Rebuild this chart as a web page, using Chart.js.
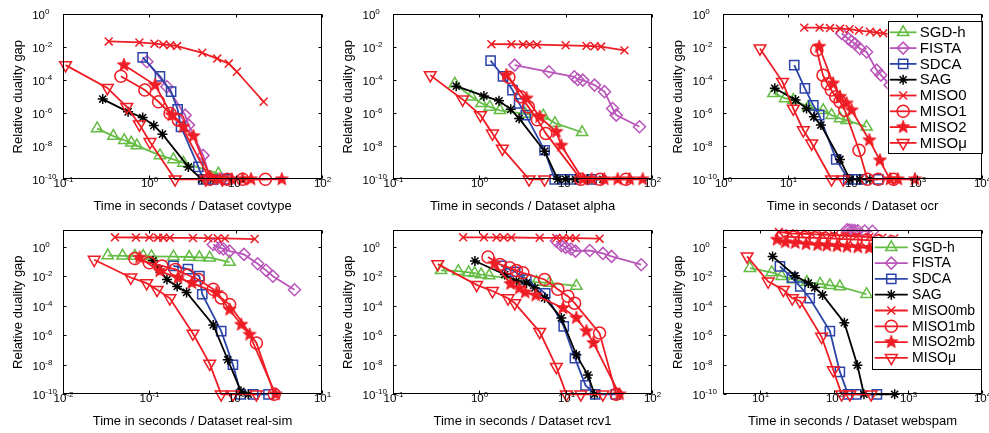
<!DOCTYPE html>
<html>
<head>
<meta charset="utf-8">
<script src="https://cdn.jsdelivr.net/npm/chart.js@4.4.1/dist/chart.umd.min.js"></script>
<style>
html, body { margin: 0; padding: 0; background: #fff; overflow: hidden; }
#fig { position: relative; width: 989px; height: 433px; }
#fig canvas { position: absolute; }
</style>
</head>
<body>
<div id="fig">
  <canvas id="p1" width="340" height="215" style="left:0px;top:0px"></canvas>
  <canvas id="p2" width="340" height="215" style="left:330px;top:0px"></canvas>
  <canvas id="p3" width="339" height="215" style="left:660px;top:0px"></canvas>
  <canvas id="p4" width="340" height="218" style="left:0px;top:215px"></canvas>
  <canvas id="p5" width="340" height="218" style="left:330px;top:215px"></canvas>
  <canvas id="p6" width="339" height="218" style="left:660px;top:215px"></canvas>
</div>
<script>
// ---- data: [time in seconds, relative duality gap] ----
const legendLabels = ['SGD-h', 'FISTA', 'SDCA', 'SAG', 'MISO0', 'MISO1', 'MISO2', 'MISOμ'];
const legendLabelsMb = ['SGD-h', 'FISTA', 'SDCA', 'SAG', 'MISO0mb', 'MISO1mb', 'MISO2mb', 'MISOμ'];
const yTickExponents = [0, -2, -4, -6, -8, -10];

// covtype
const covtypeXTicks = [-1, 0, 1, 2];
const covtypeSGD = [[0.25,1.2e-7],[0.385,4.1e-8],[0.515,2.3e-8],[0.62,1.6e-8],[0.72,1.1e-8],[1.33,2.8e-9],[1.9,1.6e-9],[2.48,9.8e-10],[6.3,2.2e-10]];
const covtypeFISTA = [[0.94,1.3e-3],[1.6,4e-5],[2.6,7.6e-7],[2.85,1.9e-7],[4.2,2.8e-9],[5.1,1e-10],[7,1e-10]];
const covtypeSDCA = [[0.84,2.4e-3],[1.33,1.7e-4],[1.79,2e-5],[2.13,1.7e-6],[2.33,1.5e-7],[3.7,5.6e-10],[4.2,1e-10],[5.5,1e-10],[8,1e-10]];
const covtypeSAG = [[0.29,7.1e-6],[0.57,1.2e-6],[0.84,5.5e-7],[1.13,1.8e-7],[1.42,5.4e-8],[2.83,5.6e-10],[4.05,1e-10],[5.5,1e-10]];
const covtypeMISO0 = [[0.34,2.2e-2],[0.77,1.9e-2],[1.15,1.6e-2],[1.45,1.45e-2],[1.75,1.3e-2],[2.1,1.15e-2],[4.1,4.5e-3],[6.1,2e-3],[8.3,1e-3],[10.3,3.2e-4],[21,4.9e-6]];
const covtypeMISO1 = [[0.47,1.7e-4],[0.89,2.5e-5],[1.28,4.9e-6],[1.74,9.6e-7],[2.17,3.8e-7],[5,1e-10],[8,1e-10],[12,1e-10],[22,1e-10]];
const covtypeMISO2 = [[0.51,8.1e-4],[1.17,5e-5],[1.82,7.6e-7],[2.48,1.5e-7],[3.24,4.1e-8],[5.05,1.4e-10],[6.5,1e-10],[9,1e-10],[12,1e-10],[15,1e-10],[34,1e-10]];
const covtypeMISOmu = [[0.108,8.1e-4],[0.328,3.4e-5],[0.55,2.4e-6],[0.77,2.1e-7],[1.02,1.8e-8],[1.99,1e-10],[4.5,1e-10],[7,1e-10]];

// alpha
const alphaXTicks = [-1, 0, 1, 2];
const alphaSGD = [[0.52,6e-5],[0.81,1e-5],[1.06,4e-6],[1.32,2.4e-6],[1.73,1.5e-6],[3.4,9e-7],[5.5,7e-7],[7.5,2.5e-7],[15.5,7e-8]];
const alphaFISTA = [[2.57,8.1e-4],[6.4,3.2e-4],[12.6,1.6e-4],[13.8,1.1e-4],[15.8,1e-4],[21.6,5e-5],[28.2,2e-5],[35,1.9e-6],[38.5,7.6e-7],[71.6,1.5e-7]];
const alphaSDCA = [[1.35,1.5e-3],[1.88,1.7e-4],[2.42,2.5e-5],[2.89,3.9e-6],[3.45,7.6e-7],[5.7,5.7e-9],[7.46,1e-10],[9.7,1e-10],[12,1e-10],[20,1e-10]];
const alphaSAG = [[0.54,4.3e-5],[1.13,1.1e-5],[1.69,5.6e-6],[2.31,1.7e-6],[2.89,4.8e-7],[5.7,5e-9],[8.1,1e-10],[10,1e-10],[13,1e-10],[18,1e-10],[27,1e-10]];
const alphaMISO0 = [[1.38,1.5e-2],[2.35,1.48e-2],[3.2,1.45e-2],[3.84,1.43e-2],[4.66,1.4e-2],[10,1.28e-2],[17.4,1.18e-2],[21.6,1.12e-2],[25.7,1.07e-2],[48,6.3e-3]];
const alphaMISO1 = [[2.2,1.5e-4],[3.0,1e-5],[3.7,2.4e-6],[4.7,4e-7],[5.9,6e-8],[15,1e-10],[25,1e-10],[50,1e-10]];
const alphaMISO2 = [[2.06,2e-4],[3.52,7.8e-6],[5.0,6e-7],[7.8,7.4e-8],[8.9,1.1e-8],[15.8,1e-10],[20,1e-10],[28,1e-10],[40,1e-10],[55,1e-10],[78,1e-10]];
const alphaMISOmu = [[0.27,2e-4],[0.64,6.8e-6],[1.03,7.6e-7],[1.42,5.9e-8],[1.85,7.2e-9],[3.77,1e-10],[5.7,1e-10]];

// ocr
const ocrXTicks = [0, 1, 2, 3, 4];
const ocrSGD = [[6,1.6e-5],[9.1,7.8e-6],[12.2,6.2e-6],[20.7,2.4e-6],[35.3,1.5e-6],[47.5,7.6e-7],[64,4.8e-7],[81,3.8e-7],[165,1.5e-7]];
const ocrFISTA = [[68,6.7e-2],[86,3.2e-2],[97,2.2e-2],[109,1.6e-2],[130,8e-3],[165,5e-3],[236,4e-4],[275,2e-4],[380,5e-5],[700,2e-6]];
const ocrSDCA = [[12.6,8.1e-4],[18.4,3.2e-5],[24.8,3e-6],[30.6,7.6e-7],[56,1.6e-9],[86,1e-10],[115,1e-10],[138,1e-10],[250,1e-10]];
const ocrSAG = [[6.3,3.2e-5],[13.2,6.2e-6],[19.5,1.9e-6],[25.3,6e-7],[32.5,1.9e-7],[64,1.6e-9],[91,1e-10],[130,1e-10],[186,1e-10]];
const ocrMISO0 = [[18,0.15],[31,0.15],[45,0.14],[64,0.13],[90,0.12],[126,0.1],[186,0.085],[236,0.075],[300,0.068],[600,0.05]];
const ocrMISO1 = [[28,6.6e-3],[35,2e-4],[41,6e-5],[47,2.5e-5],[55,1e-5],[64,5e-6],[76,1.5e-6],[126,5.7e-9],[170,1e-10],[250,1e-10],[430,1e-10]];
const ocrMISO2 = [[30.6,1.05e-2],[50,6.3e-5],[64,9.8e-6],[81,3.9e-6],[97,1.5e-6],[182,2.3e-8],[265,1.4e-9],[380,1e-10],[500,1e-10],[920,1e-10]];
const ocrMISOmu = [[3.72,8.3e-3],[8.3,7.9e-5],[12.2,1.9e-6],[17.4,9.3e-8],[23.4,1.5e-8],[47.5,1e-10],[72,1e-10]];

// real-sim
const realsimXTicks = [-2, -1, 0, 1];
const realsimSGD = [[0.033,0.25],[0.049,0.24],[0.068,0.23],[0.085,0.23],[0.106,0.22],[0.19,0.21],[0.29,0.2],[0.38,0.19],[0.5,0.18],[0.85,0.09]];
const realsimFISTA = [[0.55,1.4],[0.65,0.85],[0.72,0.7],[0.85,0.5],[1.25,0.3],[1.8,0.07],[2.25,0.025],[2.7,0.01],[4.8,1.2e-3]];
const realsimSDCA = [[0.19,0.05],[0.28,0.03],[0.38,0.01],[0.41,6e-4],[0.68,1.9e-6],[0.93,1e-8],[1.15,1e-10],[1.6,1e-10],[2.4,1e-10]];
const realsimSAG = [[0.11,0.11],[0.13,0.03],[0.16,6e-3],[0.21,2e-3],[0.27,8e-4],[0.55,5e-6],[0.81,2.2e-8],[1.15,1.6e-10],[1.4,1e-10]];
const realsimMISO0 = [[0.04,4.3],[0.07,4.2],[0.1,4.2],[0.126,4.1],[0.145,4.1],[0.173,4.0],[0.32,3.9],[0.48,3.8],[0.62,3.7],[0.75,3.6],[1.66,3.3]];
const realsimMISO1 = [[0.068,0.16],[0.1,0.081],[0.14,0.05],[0.2,0.029],[0.28,0.012],[0.37,6e-3],[0.55,1.3e-3],[0.68,3.4e-4],[0.85,1.2e-4],[1.74,3e-7],[2.8,1e-10]];
const realsimMISO2 = [[0.077,0.18],[0.132,0.022],[0.215,7.8e-3],[0.31,3.5e-3],[0.6,7.4e-4],[0.85,5.5e-5],[1.16,5.2e-6],[1.45,1.1e-6],[2.9,1e-10]];
const realsimMISOmu = [[0.023,0.13],[0.061,8.2e-3],[0.093,3.4e-3],[0.123,1.2e-3],[0.173,3.2e-4],[0.32,1.3e-6],[0.5,1.2e-8],[0.68,1e-10],[0.93,1e-10],[1.74,1e-10]];

// rcv1
const rcv1XTicks = [-1, 0, 1, 2];
const rcv1SGD = [[0.36,0.025],[0.57,0.022],[0.75,0.018],[0.88,0.016],[1.05,0.013],[1.3,0.011],[3.2,5e-3],[4.6,4e-3],[6.5,3.5e-3],[13.3,2.2e-3]];
const rcv1FISTA = [[7.8,2.4],[8.9,1.2],[10,0.9],[11.5,0.7],[13,0.5],[19,0.55],[27,0.35],[34,0.22],[75,0.06]];
const rcv1SDCA = [[1.8,0.05],[2.6,0.02],[3.5,6e-3],[5.8,7e-4],[9.5,4e-6],[12.8,2.8e-8],[17,4e-10],[22,1e-10],[38,1e-10]];
const rcv1SAG = [[0.89,0.107],[1.97,0.013],[2.69,4.7e-3],[3.52,3.5e-3],[4.4,1.6e-3],[5.7,3.4e-4],[8.9,1.5e-5],[13.3,4.7e-8],[18.1,2e-9],[21.6,1e-10]];
const rcv1MISO0 = [[0.65,4.3],[1.13,4.3],[1.58,4.2],[1.92,4.2],[2.35,4.2],[5.0,4.0],[7.8,3.9],[9.3,3.9],[11.1,3.8],[13.1,3.8],[24.7,3.5]];
const rcv1MISO1 = [[1.26,0.2],[1.73,0.063],[2.25,0.037],[2.69,0.024],[3.2,0.017],[5.7,6e-3],[8.1,1.3e-3],[10.6,4.4e-4],[12.7,1.5e-4],[24.7,1.4e-6],[38.5,1e-10]];
const rcv1MISO2 = [[1.5,0.07],[2.3,3e-3],[2.9,1.5e-3],[3.4,8e-4],[4.5,5e-4],[9.3,7e-5],[13.3,1.5e-5],[17.4,1.9e-6],[21,3e-7],[42,1e-10]];
const rcv1MISOmu = [[0.33,0.066],[0.93,2.6e-3],[1.42,1e-3],[2.15,3.2e-4],[2.57,1.5e-4],[5.0,1.7e-6],[7.8,7.2e-9],[10.2,1e-10],[15,1e-10],[27,1e-10]];

// webspam
const webspamXTicks = [1, 2, 3, 4];
const webspamSGD = [[7.3,0.035],[14.4,0.018],[19.6,0.01],[28,6e-3],[43,4e-3],[65,3e-3],[88,2.4e-3],[120,2e-3],[275,6e-4]];
const webspamFISTA = [[150,14],[160,13.5],[175,13],[190,12.5],[210,12],[260,11.5],[330,11]];
const webspamSDCA = [[18.6,0.046],[27,8e-3],[35,2e-3],[47,3.2e-4],[88,1.9e-6],[120,3.3e-9],[155,1e-10],[200,1e-10],[380,1e-10]];
const webspamSAG = [[14.8,0.22],[29.7,0.0107],[45,3.4e-3],[55,1.7e-3],[70,5.4e-4],[138,7.1e-6],[207,9.3e-9],[254,1e-10],[660,1e-10]];
const webspamMISO0mb = [[18,10],[25,8],[35,7.5],[50,7],[70,6.5],[100,6],[140,5.5],[200,5],[300,4.5],[450,4],[650,3.6]];
const webspamMISO1mb = [[20,5],[28,4.5],[40,4.2],[55,4],[75,3.8],[100,3.5],[140,3.3],[200,3],[280,2.8],[400,2.5],[600,2.2]];
const webspamMISO2mb = [[17,3],[22,2],[30,1.8],[42,1.5],[60,1.3],[80,1.2],[110,1.1],[150,1],[210,0.9],[300,0.8],[450,0.7],[650,0.6]];
const webspamMISOmu = [[6.7,0.22],[12.9,4.4e-3],[20.7,1.2e-3],[27.3,3.2e-4],[34.7,2.1e-4],[68,7.9e-7],[98,4.3e-9],[127,1e-10],[164,1e-10],[318,1e-10]];

// ---- styles ----
const FONT = '"Liberation Sans", Arial, Helvetica, sans-serif';
const GREEN = 'rgb(100,188,68)', PURPLE = 'rgb(186,85,186)', BLUE = 'rgb(44,68,168)', RED = 'rgb(238,28,36)';

function makeStar(color, r) {
  const c = document.createElement('canvas');
  const s = Math.ceil(r * 2 + 2);
  c.width = s; c.height = s;
  const g = c.getContext('2d');
  g.beginPath();
  for (let i = 0; i < 10; i++) {
    const ang = -Math.PI / 2 + i * Math.PI / 5;
    const rr = i % 2 ? r * 0.42 : r;
    g.lineTo(s / 2 + rr * Math.cos(ang), s / 2 + rr * Math.sin(ang));
  }
  g.closePath();
  g.fillStyle = color; g.fill();
  g.strokeStyle = color; g.lineWidth = 1; g.stroke();
  return c;
}
const redStar = makeStar(RED, 6.8);

const seriesStyles = [
  { color: GREEN, pointStyle: 'triangle', radius: 6.5 },
  { color: PURPLE, pointStyle: 'rectRot', radius: 6 },
  { color: BLUE, pointStyle: 'rect', radius: 6.5 },
  { color: '#000', pointStyle: 'star', radius: 5 },
  { color: RED, pointStyle: 'crossRot', radius: 5.6 },
  { color: RED, pointStyle: 'circle', radius: 6 },
  { color: RED, pointStyle: redStar, radius: 7 },
  { color: RED, pointStyle: 'triangle', radius: 6.8, rotation: 180 }
];

function makeDatasets(seriesList, labels) {
  return seriesList.map((pts, i) => {
    const st = seriesStyles[i];
    return {
      label: labels[i],
      data: pts.map(p => ({ x: p[0], y: p[1] })),
      showLine: true,
      borderColor: st.color,
      backgroundColor: 'rgba(0,0,0,0)',
      borderWidth: 1.8,
      pointStyle: st.pointStyle,
      pointRadius: st.radius,
      pointRotation: st.rotation || 0,
      pointBorderColor: st.color,
      pointBackgroundColor: 'rgba(0,0,0,0)',
      pointBorderWidth: 1.5,
      tension: 0,
      clip: false,
      order: 7 - i
    };
  });
}

function drawPow(ctx, k, x, y, align) {
  const base = '10', exp = String(k);
  ctx.font = '11.5px ' + FONT;
  const wb = ctx.measureText(base).width;
  ctx.font = '8px ' + FONT;
  const we = ctx.measureText(exp).width;
  const x0 = align === 'center' ? x - (wb + we) / 2 : x - wb;
  ctx.textAlign = 'left';
  ctx.textBaseline = 'alphabetic';
  ctx.font = '11.5px ' + FONT;
  ctx.fillText(base, x0, y);
  ctx.font = '8px ' + FONT;
  ctx.fillText(exp, x0 + wb, y - 5.5);
}

const matlabAxes = {
  id: 'matlabAxes',
  afterDatasetsDraw(chart, args, opts) {
    const ctx = chart.ctx, a = chart.chartArea;
    const xs = chart.scales.x, ys = chart.scales.y;
    ctx.save();
    ctx.strokeStyle = '#000';
    ctx.fillStyle = '#000';
    ctx.lineWidth = 1;
    const L = Math.round(a.left) + 0.5, R = Math.round(a.right) - 0.5;
    const T = Math.round(a.top) + 0.5, B = Math.round(a.bottom) - 0.5;
    ctx.strokeRect(L, T, R - L, B - T);

    opts.xTicks.forEach(k => {
      const px = Math.round(xs.getPixelForValue(Math.pow(10, k))) + 0.5;
      ctx.beginPath();
      ctx.moveTo(px, B); ctx.lineTo(px, B - 3);
      ctx.moveTo(px, T); ctx.lineTo(px, T + 3);
      ctx.stroke();
      drawPow(ctx, k, px, a.bottom + 8, 'center');
    });
    yTickExponents.forEach(k => {
      const py = Math.round(ys.getPixelForValue(Math.pow(10, k))) + 0.5;
      ctx.beginPath();
      ctx.moveTo(L, py); ctx.lineTo(L + 3, py);
      ctx.moveTo(R, py); ctx.lineTo(R - 3, py);
      ctx.stroke();
      drawPow(ctx, k, a.left - 17.7, py + 4.5, 'right');
    });

    ctx.font = '13px ' + FONT;
    ctx.textAlign = 'center';
    ctx.textBaseline = 'alphabetic';
    ctx.fillText(opts.xTitle, (a.left + a.right) / 2, a.bottom + 30.5);
    ctx.save();
    ctx.translate(18.7, (a.top + a.bottom) / 2);
    ctx.rotate(-Math.PI / 2);
    ctx.textBaseline = 'middle';
    ctx.fillText('Relative duality gap', 0, 0);
    ctx.restore();

    const lg = opts.legend;
    if (lg) {
      const ds = chart.data.datasets;
      const right = a.right - 0.5, left = right - lg.width, top = a.top + lg.top;
      ctx.fillStyle = '#fff';
      ctx.fillRect(left, top, lg.width, lg.height);
      ctx.strokeStyle = '#000';
      ctx.lineWidth = 1;
      ctx.strokeRect(Math.round(left) + 0.5, Math.round(top) + 0.5, Math.round(lg.width), Math.round(lg.height));
      ds.forEach((d, i) => {
        const cy = top + lg.first + i * lg.step;
        ctx.strokeStyle = d.borderColor;
        ctx.lineWidth = d.borderWidth;
        ctx.beginPath();
        ctx.moveTo(left + lg.line0, cy); ctx.lineTo(left + lg.line1, cy);
        ctx.stroke();
        ctx.fillStyle = 'rgba(0,0,0,0)';
        ctx.lineWidth = d.pointBorderWidth;
        const mx = (left + lg.line0 + left + lg.line1) / 2;
        if (Chart.helpers && Chart.helpers.drawPoint) {
          Chart.helpers.drawPoint(ctx, { pointStyle: d.pointStyle, rotation: d.pointRotation, radius: d.pointRadius, borderWidth: d.pointBorderWidth }, mx, cy);
        }
        ctx.fillStyle = '#000';
        ctx.font = lg.font + 'px ' + FONT;
        ctx.textAlign = 'left';
        ctx.textBaseline = 'middle';
        ctx.fillText(d.label, left + lg.text, cy + 0.5);
      });
    }
    ctx.restore();
  }
};

const legendTop = { width: 94, height: 132, top: 7, first: 11.3, step: 15.8, line0: 2.3, line1: 29, text: 32.3, font: 15 };
const legendBottom = { width: 109.4, height: 132.3, top: 6.7, first: 10.6, step: 15.8, line0: 2.7, line1: 35.7, text: 40, font: 14 };

const panels = [
  { id: 'p1', title: 'Time in seconds / Dataset covtype', xmin: 0.1, xmax: 100, ymax: 1, xTicks: covtypeXTicks,
    series: [covtypeSGD, covtypeFISTA, covtypeSDCA, covtypeSAG, covtypeMISO0, covtypeMISO1, covtypeMISO2, covtypeMISOmu],
    labels: legendLabels, legend: null, pad: { left: 62.7, right: 17.7, top: 14, bottom: 35.7 } },
  { id: 'p2', title: 'Time in seconds / Dataset alpha', xmin: 0.1, xmax: 100, ymax: 1, xTicks: alphaXTicks,
    series: [alphaSGD, alphaFISTA, alphaSDCA, alphaSAG, alphaMISO0, alphaMISO1, alphaMISO2, alphaMISOmu],
    labels: legendLabels, legend: null, pad: { left: 63, right: 18, top: 14, bottom: 35.7 } },
  { id: 'p3', title: 'Time in seconds / Dataset ocr', xmin: 1, xmax: 1e4, ymax: 1, xTicks: ocrXTicks,
    series: [ocrSGD, ocrFISTA, ocrSDCA, ocrSAG, ocrMISO0, ocrMISO1, ocrMISO2, ocrMISOmu],
    labels: legendLabels, legend: legendTop, pad: { left: 63, right: 17, top: 14, bottom: 35.7 } },
  { id: 'p4', title: 'Time in seconds / Dataset real-sim', xmin: 0.01, xmax: 10, ymax: 13.5, xTicks: realsimXTicks,
    series: [realsimSGD, realsimFISTA, realsimSDCA, realsimSAG, realsimMISO0, realsimMISO1, realsimMISO2, realsimMISOmu],
    labels: legendLabels, legend: null, pad: { left: 63, right: 18, top: 15, bottom: 38.7 } },
  { id: 'p5', title: 'Time in seconds / Dataset rcv1', xmin: 0.1, xmax: 100, ymax: 13.5, xTicks: rcv1XTicks,
    series: [rcv1SGD, rcv1FISTA, rcv1SDCA, rcv1SAG, rcv1MISO0, rcv1MISO1, rcv1MISO2, rcv1MISOmu],
    labels: legendLabels, legend: null, pad: { left: 63, right: 18, top: 15, bottom: 38.7 } },
  { id: 'p6', title: 'Time in seconds / Dataset webspam', xmin: 3.1623, xmax: 1e4, ymax: 13.5, xTicks: webspamXTicks,
    series: [webspamSGD, webspamFISTA, webspamSDCA, webspamSAG, webspamMISO0mb, webspamMISO1mb, webspamMISO2mb, webspamMISOmu],
    labels: legendLabelsMb, legend: legendBottom, pad: { left: 63, right: 17, top: 15, bottom: 38.7 } }
];

panels.forEach(p => {
  new Chart(document.getElementById(p.id), {
    type: 'scatter',
    data: { datasets: makeDatasets(p.series, p.labels) },
    options: {
      responsive: false,
      animation: false,
      devicePixelRatio: 1,
      layout: { padding: p.pad },
      scales: {
        x: { type: 'logarithmic', min: p.xmin, max: p.xmax, display: false },
        y: { type: 'logarithmic', min: 1e-10, max: p.ymax, display: false }
      },
      plugins: {
        legend: { display: false },
        tooltip: { enabled: false },
        matlabAxes: { xTitle: p.title, xTicks: p.xTicks, legend: p.legend }
      }
    },
    plugins: [matlabAxes]
  });
});
</script>
</body>
</html>
